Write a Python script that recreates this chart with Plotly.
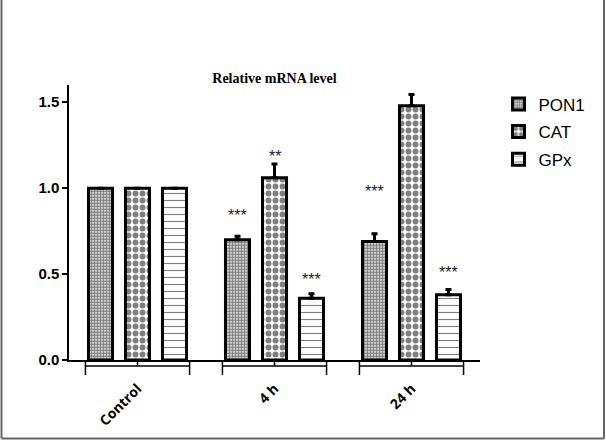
import plotly.graph_objects as go

# ----- data -----
groups = ['Control', '4 h', '24 h']
pon1 = [1.00, 0.70, 0.69]
cat = [1.00, 1.06, 1.48]
gpx = [1.00, 0.36, 0.38]
pon1_err = [0.0, 0.02, 0.045]
cat_err = [0.0, 0.08, 0.065]
gpx_err = [0.0, 0.025, 0.03]
pon1_sig = ['', '***', '***']
cat_sig = ['', '**', '***']
gpx_sig = ['', '***', '***']

W, H = 606, 441
L, R, T, B = 69, 126, 85, 81
plot_w = W - L - R
plot_h = H - T - B
bargap = 0.19
bargroupgap = 0.35

patterns = {
    'PON1': dict(shape='.', size=3, solidity=0.7, fgcolor='black', bgcolor='white'),
    'CAT': dict(shape='.', size=7, solidity=0.55, fgcolor='black', bgcolor='white'),
    'GPx': dict(shape='-', size=7, solidity=0.16, fgcolor='black', bgcolor='white'),
}

fig = go.Figure()
series = [('PON1', pon1, pon1_err), ('CAT', cat, cat_err), ('GPx', gpx, gpx_err)]
for name, vals, errs in series:
    fig.add_trace(go.Bar(
        name=name, x=groups, y=vals, legendgroup=name,
        marker=dict(color='white', line=dict(color='black', width=3), pattern=patterns[name]),
        error_y=dict(type='data', symmetric=False, array=errs, arrayminus=[0] * len(errs),
                     color='black', thickness=3, width=3),
    ))

# significance stars (heights as placed in the original)
star_y = [[None, 0.866, 1.006], [None, 1.209, 1.715], [None, 0.494, 0.535]]
slot = (1 - bargap) / 3
for k, sig in enumerate([pon1_sig, cat_sig, gpx_sig]):
    for i, s in enumerate(sig):
        if not s:
            continue
        fig.add_annotation(x=i + (k - 1) * slot, y=star_y[k][i], text=s, showarrow=False,
                           yanchor='middle', yshift=-4,
                           font=dict(family='Liberation Sans', size=16, color='#222'))

# group brackets under the x axis
px_y = lambda p: -p / plot_h
for i in range(len(groups)):
    x0, x1 = i - 0.38, i + 0.38
    line = dict(color='black', width=1.5)
    fig.add_shape(type='line', xref='x', yref='paper', x0=x0, x1=x1, y0=px_y(6), y1=px_y(6), line=line)
    fig.add_shape(type='line', xref='x', yref='paper', x0=x0, x1=x0, y0=0, y1=px_y(15), line=line)
    fig.add_shape(type='line', xref='x', yref='paper', x0=x1, x1=x1, y0=0, y1=px_y(15), line=line)
    fig.add_shape(type='line', xref='x', yref='paper', x0=i, x1=i, y0=0, y1=px_y(6), line=line)

# gray frame around the picture (left, right, bottom)
fx0 = (1.5 - L) / plot_w
fx1 = (W - 2 - L) / plot_w
fy0 = -(H - 2.5 - T - plot_h) / plot_h
fy1 = (T + plot_h) / plot_h
frame = dict(color='#666', width=2)
fig.add_shape(type='line', xref='paper', yref='paper', x0=fx0, x1=fx0, y0=fy0, y1=fy1, line=frame)
fig.add_shape(type='line', xref='paper', yref='paper', x0=fx1, x1=fx1, y0=fy0, y1=fy1, line=frame)
fig.add_shape(type='line', xref='paper', yref='paper', x0=fx0, x1=fx1, y0=fy0, y1=fy0, line=frame)

fig.update_layout(
    width=W, height=H,
    margin=dict(l=L, r=R, t=T, b=B),
    paper_bgcolor='white', plot_bgcolor='white',
    barmode='group', bargap=bargap, bargroupgap=bargroupgap,
    title=dict(text='<b>Relative mRNA level</b>', x=(L + plot_w / 2) / W, xanchor='center',
               y=1 - 78 / H, yanchor='middle',
               font=dict(family='Liberation Serif', size=14, color='black')),
    legend=dict(x=1.045, y=0.995, xanchor='left', yanchor='top', bgcolor='rgba(0,0,0,0)',
                font=dict(family='Liberation Sans', size=17, color='black'),
                itemwidth=30, tracegroupgap=2.5),
    showlegend=True,
)
fig.update_xaxes(range=[-0.5, 2.5], showline=True, linecolor='black', linewidth=2,
                 ticks='', tickangle=-45, ticklabelstandoff=13, showgrid=False,
                 tickfont=dict(family='Open Sans', size=14, color='black', weight='bold'))
fig.update_yaxes(range=[0, 1.6], tickvals=[0, 0.5, 1.0, 1.5], tickformat='.1f',
                 showline=True, linecolor='black', linewidth=1.5, ticks='outside',
                 ticklen=5, tickwidth=1.5, tickcolor='black', showgrid=False, zeroline=False,
                 tickfont=dict(family='Liberation Sans', size=15, color='black', weight='bold'))

fig.write_html("out.html", config={'displayModeBar': False},
               post_script="document.body.style.margin='0px';")
